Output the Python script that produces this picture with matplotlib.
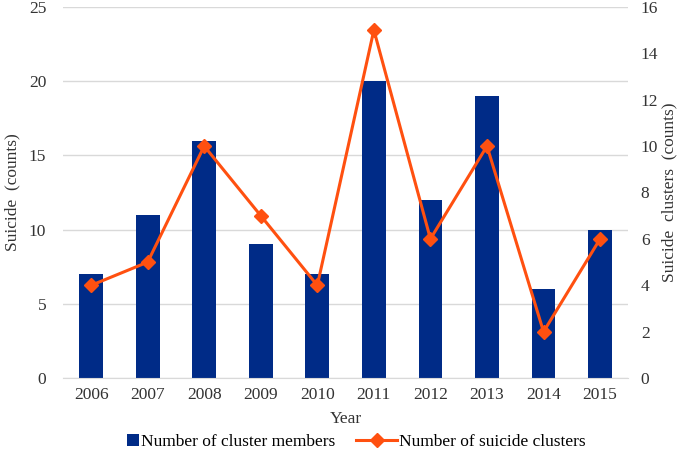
import matplotlib
matplotlib.use("Agg")
import matplotlib.pyplot as plt
from matplotlib.lines import Line2D
from matplotlib.patches import Patch, Rectangle
from matplotlib.legend_handler import HandlerPatch

years = ["2006", "2007", "2008", "2009", "2010", "2011", "2012", "2013", "2014", "2015"]
members = [7, 11, 16, 9, 7, 20, 12, 19, 6, 10]
clusters = [4, 5, 10, 7, 4, 15, 6, 10, 2, 6]

plt.rcParams['font.family'] = ['Liberation Serif', 'DejaVu Serif']
bar_color = "#002b87"
line_color = "#ff5010"
grid_color = "#d9d9d9"
txt = "#333333"
fs = 12.5

fig = plt.figure(figsize=(6.83, 4.54), dpi=100)
ax = fig.add_axes([0.092, 0.167, 0.828, 0.818])
x = list(range(len(years)))
ax.bar(x, members, width=0.42, color=bar_color, zorder=2)
ax.set_ylim(0, 25)
ax.set_yticks([0, 5, 10, 15, 20, 25])
ax.set_xlim(-0.5, len(years) - 0.5)
ax.set_xticks(x)
ax.set_xticklabels(years)
ax.yaxis.grid(True, color=grid_color, linewidth=1, zorder=0)
ax.set_axisbelow(True)
for s in ["top", "right", "left"]:
    ax.spines[s].set_visible(False)
ax.spines["bottom"].set_color(grid_color)
ax.tick_params(axis="both", length=0, labelsize=fs, colors=txt)
ax.tick_params(axis="x", pad=6)
ax.tick_params(axis="y", pad=12)
ax.set_ylabel("Suicide  (counts)", fontsize=fs, color=txt, labelpad=6)
ax.set_xlabel("Year", fontsize=fs, color=txt, labelpad=6)

ax2 = ax.twinx()
ax2.plot(x, clusters, color=line_color, linewidth=2.2, marker="D", markersize=7, zorder=3)
ax2.set_ylim(0, 16)
ax2.set_yticks(range(0, 17, 2))
for s in ["top", "right", "left", "bottom"]:
    ax2.spines[s].set_visible(False)
ax2.tick_params(axis="y", length=0, labelsize=fs, colors=txt, pad=9)
ax2.set_ylabel("Suicide  clusters  (counts)", fontsize=fs, color=txt, labelpad=2)


class SmallSquare(HandlerPatch):
    def create_artists(self, legend, orig_handle, xdescent, ydescent, width, height, fontsize, trans):
        s = height * 1.0
        r = Rectangle((width - s - xdescent, -ydescent + (height - s) / 2), s, s,
                      facecolor=orig_handle.get_facecolor(), edgecolor="none", transform=trans)
        return [r]


bar_handle = Patch(color=bar_color, label="Number of cluster members")
line_handle = Line2D([0], [0], color=line_color, linewidth=2.2, marker="D", markersize=7,
                     label="Number of suicide clusters")
fig.legend(handles=[bar_handle, line_handle], loc="lower center", ncol=2, frameon=False,
           fontsize=fs, bbox_to_anchor=(0.5, -0.025), handlelength=2.4, columnspacing=1.2,
           handletextpad=0.1, handler_map={Patch: SmallSquare()})

fig.savefig("out.png", dpi=100)
